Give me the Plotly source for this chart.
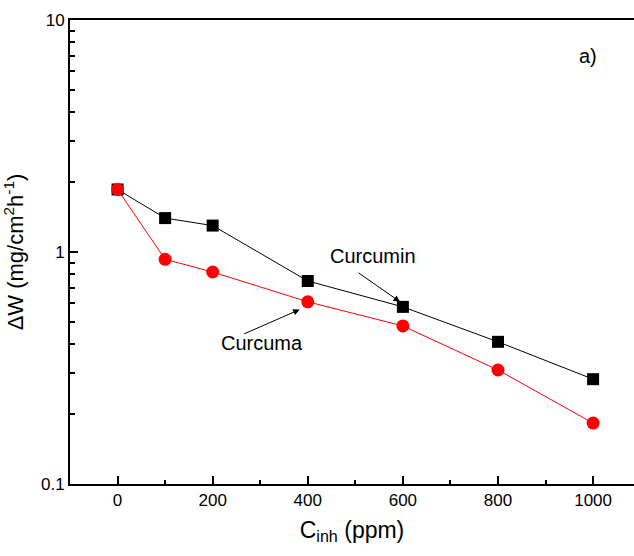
import math
import plotly.graph_objects as go

conc = [0, 100, 200, 400, 600, 800, 1000]
curcumin = [1.86, 1.40, 1.30, 0.75, 0.58, 0.41, 0.283]
curcuma = [1.86, 0.93, 0.82, 0.61, 0.48, 0.31, 0.183]

font_family = "Liberation Sans, Arial, sans-serif"

fig = go.Figure()
fig.add_trace(go.Scatter(x=conc, y=curcumin, mode="lines+markers", name="Curcumin",
                         line=dict(color="black", width=1),
                         marker=dict(symbol="square", size=12, color="black")))
fig.add_trace(go.Scatter(x=conc, y=curcuma, mode="lines+markers", name="Curcuma",
                         line=dict(color="red", width=1),
                         marker=dict(symbol="circle", size=13, color="red")))

fig.update_layout(
    width=634, height=556,
    margin=dict(l=70, r=0, t=20, b=72),
    plot_bgcolor="white", paper_bgcolor="white",
    showlegend=False,
    font=dict(family=font_family, color="black", size=17),
    xaxis=dict(range=[-100, 1086], tickvals=[0, 200, 400, 600, 800, 1000],
               ticks="inside", ticklen=8, tickwidth=1.5, tickcolor="black",
               showline=True, linecolor="black", linewidth=2, mirror=True,
               showgrid=False, zeroline=False,
               minor=dict(tickvals=[100, 300, 500, 700, 900], ticks="inside", ticklen=4,
                          tickwidth=1.5, tickcolor="black", showgrid=False),
               title=dict(text="C<sub>inh</sub> (ppm)", font=dict(size=23), standoff=12),
               tickfont=dict(size=17)),
    yaxis=dict(type="log", range=[-1, 1], tickvals=[0.1, 1, 10], ticktext=["0.1", "1", "10"],
               ticks="inside", ticklen=8, tickwidth=1.5, tickcolor="black",
               showline=True, linecolor="black", linewidth=2, mirror=False,
               showgrid=False, zeroline=False,
               minor=dict(tickvals=[0.2, 0.3, 0.4, 0.5, 0.6, 0.7, 0.8, 0.9,
                                    2, 3, 4, 5, 6, 7, 8, 9],
                          ticks="inside", ticklen=5, tickwidth=1.5, tickcolor="black",
                          showgrid=False),
               title=dict(text="ΔW (mg/cm<sup>2</sup>h<sup>-1</sup>)", font=dict(size=22), standoff=12),
               tickfont=dict(size=17)),
)

# labels and arrows (log axis: annotation y given as log10)
fig.add_annotation(x=537, y=math.log10(0.957), text="Curcumin", showarrow=False,
                   font=dict(size=20, family=font_family, color="black"))
fig.add_annotation(x=303, y=math.log10(0.405), text="Curcuma", showarrow=False,
                   font=dict(size=20, family=font_family, color="black"))
fig.add_annotation(x=594, y=math.log10(0.61), text="", showarrow=True, arrowhead=2, arrowsize=1.3,
                   arrowwidth=1, arrowcolor="black", ax=-43, ay=-30)
fig.add_annotation(x=383, y=math.log10(0.565), text="", showarrow=True, arrowhead=2, arrowsize=1.3,
                   arrowwidth=1, arrowcolor="black", ax=-57, ay=25)
fig.add_annotation(xref="paper", yref="paper", x=0.918, y=0.923, xanchor="center", yanchor="middle",
                   text="a)", showarrow=False,
                   font=dict(size=20, family=font_family, color="black"))

fig.write_html("out.html")
